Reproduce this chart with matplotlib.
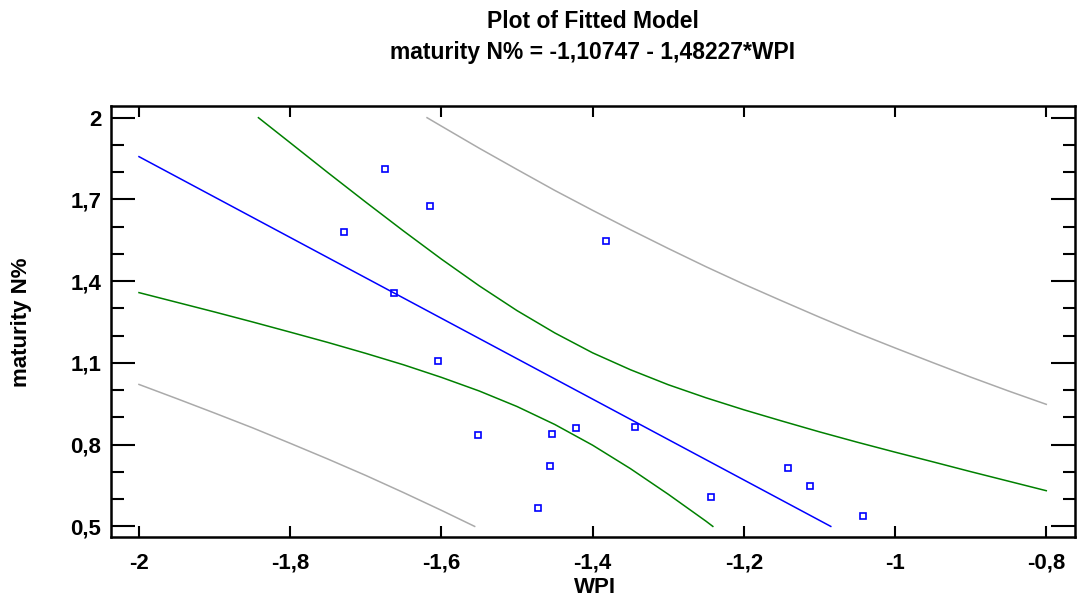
import matplotlib
matplotlib.use("Agg")
import matplotlib.pyplot as plt
from matplotlib.ticker import FixedLocator, MultipleLocator, FuncFormatter

plt.rcParams['font.family'] = ['Liberation Sans', 'DejaVu Sans']

# Observed points
wpi = [-1.674, -1.6155, -1.7285, -1.382, -1.663, -1.604, -1.552, -1.454,
       -1.456, -1.472, -1.422, -1.344, -1.244, -1.142, -1.1125, -1.042]
maturity_n = [1.811, 1.677, 1.580, 1.548, 1.358, 1.107, 0.834, 0.840,
              0.721, 0.567, 0.860, 0.864, 0.608, 0.715, 0.649, 0.537]

# Fitted line
fit_x = [-2.0, -1.085]
fit_y = [1.857, 0.5]

# Confidence limits for the mean (green)
conf_up_x = [-1.842, -1.8, -1.75, -1.7, -1.65, -1.6, -1.55, -1.5, -1.45, -1.4,
             -1.35, -1.3, -1.25, -1.2, -1.15, -1.1, -1.05, -1.0, -0.95, -0.9,
             -0.85, -0.8]
conf_up_y = [2.0, 1.908, 1.798, 1.690, 1.584, 1.481, 1.383, 1.292, 1.210, 1.137,
             1.075, 1.020, 0.972, 0.928, 0.887, 0.847, 0.809, 0.7725, 0.737, 0.701,
             0.666, 0.631]
conf_lo_x = [-2.0, -1.95, -1.9, -1.85, -1.8, -1.75, -1.7, -1.65, -1.6, -1.55,
             -1.5, -1.45, -1.4, -1.35, -1.3, -1.25, -1.241]
conf_lo_y = [1.358, 1.3225, 1.287, 1.2505, 1.213, 1.175, 1.135, 1.093, 1.047, 0.997,
             0.940, 0.874, 0.798, 0.712, 0.618, 0.519, 0.5]

# Prediction limits (gray)
pred_up_x = [-1.619, -1.6, -1.55, -1.5, -1.45, -1.4, -1.35, -1.3, -1.25, -1.2,
             -1.15, -1.1, -1.05, -1.0, -0.95, -0.9, -0.85, -0.8]
pred_up_y = [2.0, 1.969, 1.888, 1.810, 1.733, 1.660, 1.589, 1.520, 1.453, 1.389,
             1.328, 1.268, 1.210, 1.155, 1.101, 1.048, 0.997, 0.948]
pred_lo_x = [-2.0, -1.95, -1.9, -1.85, -1.8, -1.75, -1.7, -1.65, -1.6, -1.556]
pred_lo_y = [1.021, 0.969, 0.916, 0.862, 0.805, 0.747, 0.687, 0.624, 0.559, 0.5]

x_ticks = [-2, -1.8, -1.6, -1.4, -1.2, -1.0, -0.8]
y_ticks = [0.5, 0.8, 1.1, 1.4, 1.7, 2.0]

fig = plt.figure(figsize=(10.8, 6.03), dpi=100)
ax = fig.add_axes([111/1080, 1-537.3/603, (1075-111)/1080, (537.3-105.7)/603])

ax.plot(pred_up_x, pred_up_y, color='#aaaaaa', lw=1.1)
ax.plot(pred_lo_x, pred_lo_y, color='#aaaaaa', lw=1.1)
ax.plot(conf_up_x, conf_up_y, color='#008000', lw=1.1)
ax.plot(conf_lo_x, conf_lo_y, color='#008000', lw=1.1)
ax.plot(fit_x, fit_y, color='#0000ff', lw=1.1)
ax.plot(wpi, maturity_n, ls='none', marker='s', ms=5, mfc='none',
        mec='#0000ff', mew=1.2)

ax.set_xlim(-2.037, -0.762)
ax.set_ylim(0.46, 2.044)

def comma(v, pos):
    s = ('%.1f' % v)
    if s.endswith('.0'):
        s = s[:-2]
    return s.replace('.', ',')

ax.xaxis.set_major_locator(FixedLocator(x_ticks))
ax.yaxis.set_major_locator(FixedLocator(y_ticks))
ax.yaxis.set_minor_locator(MultipleLocator(0.1))
ax.xaxis.set_major_formatter(FuncFormatter(comma))
ax.yaxis.set_major_formatter(FuncFormatter(comma))

ax.tick_params(axis='x', which='major', direction='in', length=8, width=1.5,
               top=True, bottom=True, labelsize=16, pad=11)
ax.tick_params(axis='y', which='major', direction='in', length=17, width=1.5,
               left=True, right=True, labelsize=16, pad=7)
ax.tick_params(axis='y', which='minor', direction='in', length=9, width=1.5,
               left=True, right=True)
for lab in ax.get_xticklabels() + ax.get_yticklabels():
    lab.set_fontweight('bold')
for sp in ax.spines.values():
    sp.set_linewidth(1.8)

fig.text(595/1080, 1-587.5/603, 'WPI', ha='center', va='center',
         fontsize=16, fontweight='bold')
fig.text(22/1080, 1-322/603, 'maturity N%', ha='center', va='center',
         rotation=90, fontsize=16, fontweight='bold')

fig.text(593/1080, 1-21/603, 'Plot of Fitted Model', ha='center', va='center',
         fontsize=16.5, fontweight='bold')
fig.text(593/1080, 1-53/603, 'maturity N% = -1,10747 - 1,48227*WPI', ha='center',
         va='center', fontsize=16.5, fontweight='bold')

fig.savefig('out.png', dpi=100)
